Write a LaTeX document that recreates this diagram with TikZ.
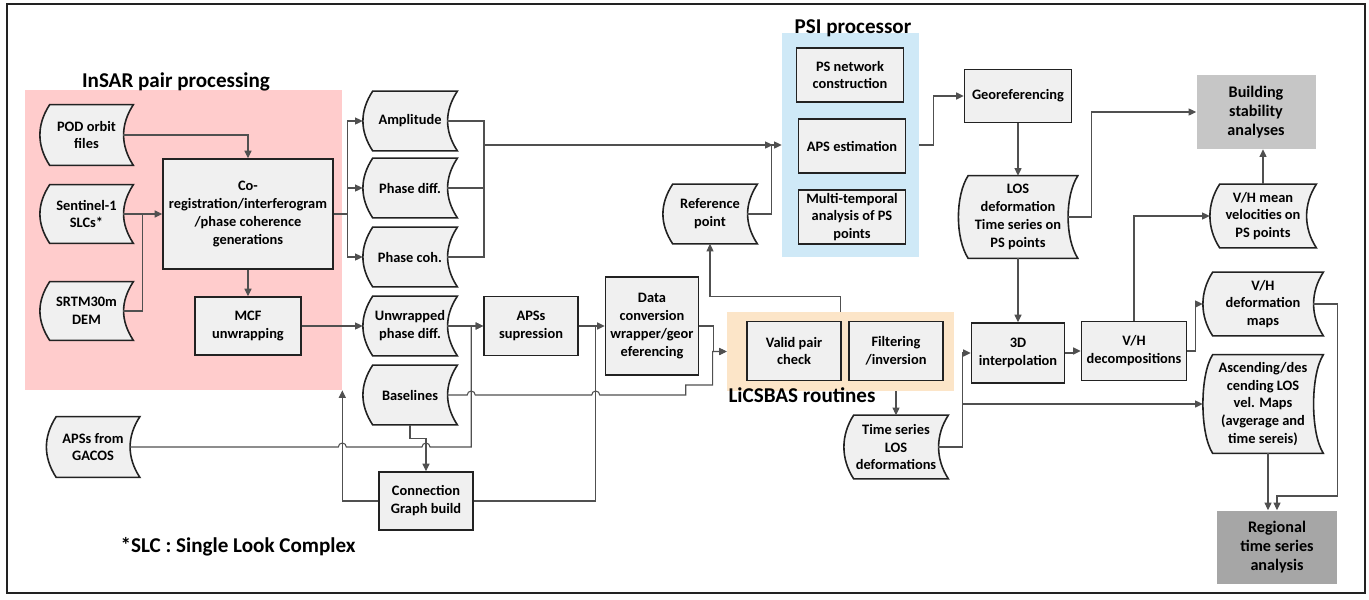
\documentclass[tikz,border=0pt]{standalone}
\usepackage{fontspec}
\setmainfont{Carlito}
\usetikzlibrary{arrows.meta,backgrounds,calc}
\definecolor{insarpink}{HTML}{FFCCCC}
\definecolor{psiblue}{HTML}{CFE9F7}
\definecolor{licspeach}{HTML}{FCE5C8}
\definecolor{boxgray}{HTML}{F0F0F0}
\definecolor{resultgray}{HTML}{C6C6C6}
\definecolor{finalgray}{HTML}{A6A6A6}
\definecolor{ink}{HTML}{222222}
\definecolor{wiregray}{HTML}{505050}
\pgfdeclarelayer{regions}
\pgfsetlayers{regions,background,main}

\begin{document}
\begin{tikzpicture}[x=0.02cm,y=-0.02cm,
  >={Triangle[length=1.5mm,width=1.4mm]},
  font=\fontsize{8.2}{10.2}\selectfont\bfseries,
  proc/.style={draw=ink,fill=boxgray,line width=.9pt,minimum width=1.88cm,minimum height=1.18cm,align=center,inner sep=1pt},
  datanode/.style={minimum width=1.88cm,minimum height=1.18cm,align=center,inner sep=1pt},
  dataline/.style={draw=ink,fill=boxgray,line width=.9pt},
  result/.style={fill=resultgray,minimum width=2.38cm,minimum height=1.48cm,align=center,font=\fontsize{9.2}{11}\selectfont\bfseries},
  region/.style={inner sep=0pt},
  heading/.style={font=\fontsize{12}{14}\selectfont\bfseries},
  flow/.style={draw=wiregray,line width=.6pt,->},
  wire/.style={draw=wiregray,line width=.6pt}
]
  \useasboundingbox (0,0) rectangle (1369,599);
  \draw[ink,line width=1.2pt] (7,4) rectangle (1365,593);

  \begin{pgfonlayer}{regions}
    \node[region,fill=insarpink,minimum width=6.34cm,minimum height=6cm] (insar) at (183.5,240) {};
    \node[region,fill=psiblue,minimum width=2.74cm,minimum height=4.48cm] (psi) at (850.5,145) {};
    \node[region,fill=licspeach,minimum width=4.54cm,minimum height=1.58cm] (lics) at (840.5,351.5) {};
  \end{pgfonlayer}

  \node[heading] (insartitle) at (176,82) {InSAR pair processing};
  \node[heading] (psititle) at (853,28) {PSI processor};
  \node[heading] (licstitle) at (802,395) {LiCSBAS routines};
  \node[heading] (slcnote) at (238,547) {*SLC : Single Look Complex};

  % InSAR pair processing
  \node[datanode,minimum width=1.86cm,minimum height=1.2cm] (pod) at (86.5,135) {POD orbit\\files};
  \node[datanode,minimum width=1.86cm,minimum height=1.16cm] (slc) at (86.5,214) {Sentinel-1\\SLCs*};
  \node[datanode,minimum width=1.86cm,minimum height=1.16cm] (dem) at (86.5,311) {SRTM30m\\DEM};
  \node[proc,minimum width=3.4cm,minimum height=2.2cm] (coreg) at (248,214) {Co-\\registration/interferogram\\/phase coherence\\generations};
  \node[proc,minimum width=2.12cm,minimum height=1.16cm] (mcf) at (248,326) {MCF\\unwrapping};
  \node[datanode,minimum width=1.86cm,minimum height=1.2cm] (gacos) at (93,447) {APSs from\\GACOS};

  % interferometric products
  \node[datanode] (amp) at (410,121) {Amplitude};
  \node[datanode] (phdiff) at (410,188) {Phase diff.};
  \node[datanode] (phcoh) at (410,257) {Phase coh.};
  \node[datanode] (unw) at (410,326) {Unwrapped\\phase diff.};
  \node[datanode] (base) at (410,395) {Baselines};
  \node[proc,minimum height=1.16cm] (conn) at (426,501) {Connection\\Graph build};
  \node[proc] (apss) at (531,326) {APSs\\supression};
  \node[proc,minimum width=1.86cm,minimum height=1.96cm] (dconv) at (652,326) {Data\\conversion\\wrapper/geor\\eferencing};
  \node[datanode] (ref) at (710,214) {Reference\\point};

  % LiCSBAS routines
  \node[proc] (valid) at (794,351) {Valid pair\\check};
  \node[proc] (filt) at (896,351) {Filtering\\/inversion};
  \node[datanode,minimum width=2.08cm,minimum height=1.26cm] (ts) at (896,447) {Time series\\LOS\\deformations};

  % PSI processor
  \node[proc,minimum width=2.14cm,minimum height=1.08cm] (psnet) at (850,75) {PS network\\construction};
  \node[proc,minimum width=2.14cm,minimum height=1.08cm] (apsest) at (852,146) {APS estimation};
  \node[proc,minimum width=2.14cm,minimum height=1.08cm] (multi) at (852,217) {Multi-temporal\\analysis of PS\\points};
  \node[proc,minimum width=2.14cm,minimum height=1.06cm] (geo) at (1018,96) {Georeferencing};
  \node[datanode,minimum width=2.38cm,minimum height=1.64cm] (los) at (1018,217) {LOS\\deformation\\Time series on\\PS points};

  % decomposition and results
  \node[proc,minimum width=1.86cm,minimum height=1.2cm] (interp) at (1018,353) {3D\\interpolation};
  \node[proc,minimum width=2.1cm] (vhdec) at (1134,351) {V/H\\decompositions};
  \node[result] (build) at (1256,112) {Building\\stability\\analyses};
  \node[datanode,minimum width=2.12cm,minimum height=1.26cm] (vhmean) at (1263,216) {V/H mean\\velocities on\\PS points};
  \node[datanode,minimum width=2.4cm,minimum height=1.26cm] (vhdef) at (1263,304) {V/H\\deformation\\maps};
  \node[datanode,minimum width=2.4cm,minimum height=1.96cm] (asc) at (1263,404) {Ascending/des\\cending LOS\\vel. Maps\\(avgerage and\\time sereis)};
  \node[result,fill=finalgray,minimum width=2.4cm,minimum height=1.46cm] (regional) at (1277,547) {Regional\\time series\\analysis};

  \begin{scope}[on background layer]
    \foreach \n in {pod,slc,dem,gacos,amp,phdiff,phcoh,unw,base,ref,ts,los,vhmean,vhdef,asc}{
      \draw[dataline] ([xshift=2mm]\n.north west) -- (\n.north east)
        .. controls +(-13,20) and +(-13,-20) .. (\n.south east)
        -- ([xshift=2mm]\n.south west)
        .. controls +(-13,-20) and +(-13,20) .. ([xshift=2mm]\n.north west) -- cycle;
      \coordinate (\n-e) at ([xshift=-2mm]\n.east);
    }
  \end{scope}

  \coordinate (psibus) at (484,145);
  \coordinate (apsin) at ($(apss.west)+(-12,0)$);
  \coordinate (dcin) at ($(dconv.west)+(-9,0)$);

  % InSAR block
  \draw[flow] (pod-e) -| (coreg.north);
  \draw[flow] (slc-e) -- (coreg.west);
  \draw[wire] (dem-e) -| ($(slc-e)!.5!(coreg.west)$);
  \draw[flow] (coreg) -- (mcf);
  \draw[flow] (mcf) -- (unw);
  \foreach \t in {amp,phdiff,phcoh}
    \draw[flow] (coreg.east) -- ++(14,0) |- (\t.west);

  % towards the PSI processor
  \foreach \t in {amp,phdiff,phcoh}
    \draw[wire] (\t-e) -| (psibus);
  \draw[flow] (psibus) -- ([xshift=-1.8mm]psi.west);
  \draw[flow] (ref-e) -| ([xshift=-2mm]psi.west) -- (psi.west);
  \draw[flow] (psi.east) -- ++(14,0) |- (geo.west);
  \draw[flow] (geo) -- (los);
  \draw[flow] (los-e) -- ++(24,0) |- (build.west);
  \draw[flow] (los) -- (interp);

  % small baseline chain
  \draw[flow] (unw-e) -- (apss.west);
  \draw[flow] (gacos-e) -- ($(gacos-e -| insar.south east)+(-4,0)$) arc[start angle=180,end angle=360,radius=4]
    -- ($(gacos-e -| conn.north)+(-4,0)$) arc[start angle=180,end angle=360,radius=4]
    -| (apsin) -- (apss.west);
  \draw[flow] (base.south) -- ++(0,14) -| (conn.north);
  \draw[flow] (conn.west) -| (insar.south east);
  \draw[wire] (conn.east) -| (dcin);
  \draw[flow] (apss) -- (dconv);
  \draw[flow] (dconv.east) -- ++(14,0) |- (lics.west);
  \draw[flow] (base-e) -- ($(base-e -| apsin)+(-4,0)$) arc[start angle=180,end angle=360,radius=4]
    -- ($(base-e -| dcin)+(-4,0)$) arc[start angle=180,end angle=360,radius=4]
    -- ++(86,0) -- ++(0,-10) -| ($(lics.west)+(-14,0)$) -- (lics.west);
  \draw[flow] (lics.north) -- ++(0,-15) -| (ref.south);
  \draw[flow] (filt.south |- lics.south) -- (ts);
  \draw[flow] (ts-e) -- ++(24,0) |- (interp.west);
  \draw[flow] (ts-e) -- ++(24,0) |- (asc.west);

  % decomposition outputs
  \draw[flow] (interp.east) -- ++(8,0) |- (vhdec.west);
  \draw[flow] (vhdec.north) |- (vhmean.west);
  \draw[flow] (vhdec.east) -- ++(8,0) |- (vhdef.west);
  \draw[flow] (vhmean.north) -- (vhmean.north |- build.south);
  \draw[flow] (vhdef-e) -- ++(24,0) -- ++(0,192) -| (regional.north);
  \draw[flow] ($(regional.north |- asc.south)+(-9,0)$) -- ($(regional.north)+(-9,0)$);
\end{tikzpicture}
\end{document}
